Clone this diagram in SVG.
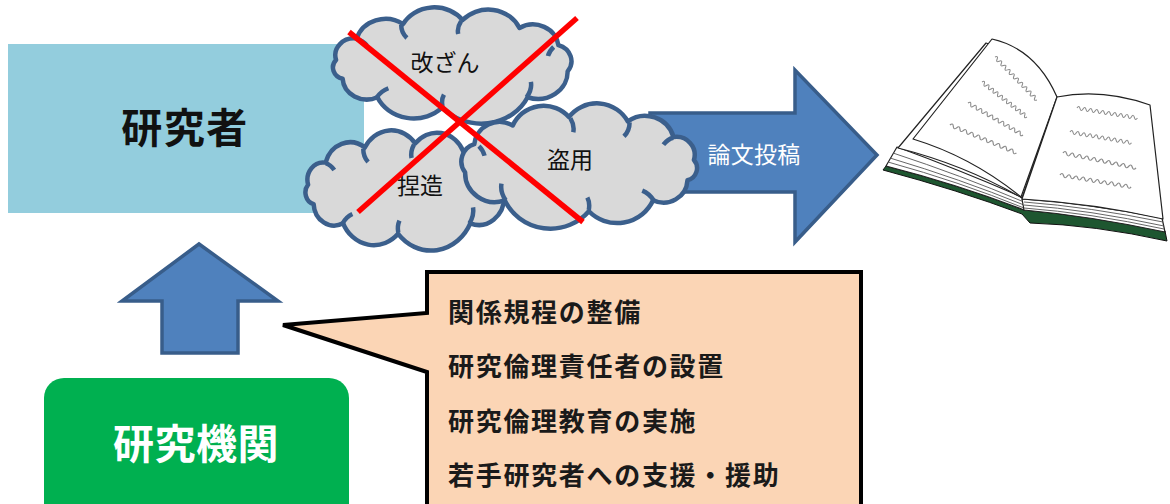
<svg xmlns="http://www.w3.org/2000/svg" xmlns:xlink="http://www.w3.org/1999/xlink" width="1170" height="504" viewBox="0 0 1170 504">
  <style>
    .jp { font-family: "Noto Sans CJK JP", "Noto Sans", sans-serif; }
    .cloud-body { fill: #D9D9D9; stroke: #3B5F8C; stroke-width: 4.5; stroke-linejoin: round; }
    .cloud-crease { fill: none; stroke: #3B5F8C; stroke-width: 4.5; stroke-linecap: butt; }
    .cloud-label { font-size: 23px; fill: #111; text-anchor: middle; }
    .block-arrow { fill: #4F81BD; stroke: #385D8A; stroke-width: 3.5; stroke-linejoin: miter; }
    .cross { stroke: #FF0000; stroke-width: 5.5; stroke-linecap: butt; }
    .measure { font-size: 26px; font-weight: 700; fill: #1a1a1a; letter-spacing: 1.7px; }
    .scribble { fill: none; stroke: #8c8c8c; stroke-width: 1.1; }
    .page { fill: #ffffff; stroke: #222; stroke-width: 1.2; stroke-linejoin: round; }
  </style>
  <defs>
    <!-- generic cloud outline in a 0..200 x 0..100 box -->
    <path id="cloudShape" vector-effect="non-scaling-stroke" d="M 18.3 47.0 A 13 13 0 0 1 32.8 30.5 A 21 21 0 0 1 65.3 19.2 A 25 25 0 0 1 107.1 16.1 A 24 24 0 0 1 147.0 22.2 A 18 18 0 0 1 174.3 35.6 A 13 13 0 0 1 180.8 55.9 A 21 21 0 0 1 152.7 76.0 A 36 36 0 0 1 92.9 83.9 A 28 28 0 0 1 47.3 76.0 A 17 17 0 0 1 22.9 61.6 A 9 9 0 0 1 18.3 47.0 Z"/>
    <path id="cloudCreases" vector-effect="non-scaling-stroke" d="M 64 20 Q 64 26 68 30 M 106 17 Q 103 22 104 27 M 171 37 Q 168 40 167 44 M 152 76 Q 156 70 155 64 M 93 83 Q 92 78 94 74 M 47 76 Q 50 71 55 69 M 33 31 Q 37 32 40 36"/>
    <!-- handwriting line used on the book pages -->
    <path id="scribble" d="M 0 0 q 1.5 -4 3 0 t 3 0 t 3 0 t 3 0 t 3 0 t 3 0 t 3 0 t 3 0 t 3 0 t 3 0 t 3 0 t 3 0 t 3 0 t 3 0 t 3 0 t 3 0 t 3 0 t 3 0 t 3 0 t 3 0"/>
  </defs>

  <!-- researcher -->
  <g id="researcher">
    <rect x="8" y="44" width="356" height="169" fill="#93CDDD"/>
    <text class="jp" x="185" y="143" font-size="41" font-weight="700" text-anchor="middle" letter-spacing="1.5" fill="#111">研究者</text>
  </g>

  <!-- connectors -->
  <g id="connectors">
    <path id="submit-arrow" class="block-arrow" d="M 650 113 L 795 113 L 795 70 L 877 155 L 795 242 L 795 192 L 650 192 Z"/>
    <path id="support-arrow" class="block-arrow" d="M 199 244 L 278 301 L 238 301 L 238 353 L 162 353 L 162 301 L 122 301 Z"/>
  </g>
  <text class="jp" x="754" y="163" font-size="23" letter-spacing="0.3" text-anchor="middle" fill="#ffffff">論文投稿</text>

  <!-- misconduct clouds -->
  <g id="cloud-falsification">
    <g transform="translate(310 -0.7) scale(1.425 1.289)">
      <use href="#cloudShape" class="cloud-body"/>
      <use href="#cloudCreases" class="cloud-crease"/>
    </g>
    <text class="jp cloud-label" x="445" y="71">改ざん</text>
  </g>
  <g id="cloud-fabrication">
    <g transform="translate(286 122) scale(1.207 1.333)">
      <use href="#cloudShape" class="cloud-body"/>
      <use href="#cloudCreases" class="cloud-crease"/>
    </g>
    <text class="jp cloud-label" x="420" y="194">捏造</text>
  </g>
  <g id="cloud-plagiarism">
    <g transform="translate(719.7 94.7) scale(-1.408 1.389)">
      <use href="#cloudShape" class="cloud-body"/>
      <use href="#cloudCreases" class="cloud-crease"/>
    </g>
    <text class="jp cloud-label" x="570" y="168">盗用</text>
  </g>

  <!-- prohibition cross -->
  <g id="cross">
    <line class="cross" x1="349" y1="32" x2="583" y2="222"/>
    <line class="cross" x1="577" y1="18" x2="358" y2="212"/>
  </g>

  <!-- published paper (open book) -->
  <g id="journal">
    <path d="M 883 170 Q 958 190 1022 214 L 1030 223 Q 1095 225 1167 241 L 1165 231 Q 1090 216 1024 210 Q 960 185 886 166 Z" fill="#1E5630" stroke="#111" stroke-width="1"/>
    <path class="page" d="M 897 147 L 886 166 Q 960 185 1024 210 L 1024 198 Q 960 170 897 147 Z"/>
    <path d="M 893 153 Q 960 175 1024 202 M 890 158 Q 960 179 1024 205 M 888 162 Q 960 182 1024 208" fill="none" stroke="#555" stroke-width="0.9"/>
    <path class="page" d="M 1022 199 Q 1090 204 1162 218 L 1165 232 Q 1090 216 1024 210 Z"/>
    <path d="M 1024 202 Q 1090 207 1163 222 M 1024 205 Q 1090 210 1164 226 M 1024 208 Q 1090 213 1164 229" fill="none" stroke="#555" stroke-width="0.9"/>
    <path class="page" d="M 986 43 L 898 148 Q 965 165 1022 198 L 1057 97 Q 1030 56 986 43 Z"/>
    <path class="page" d="M 992 39 L 913 139 Q 972 157 1021 197 L 1057 97 Q 1036 49 992 39 Z"/>
    <path class="page" d="M 1057 97 Q 1102 88 1150 105 L 1163 219 Q 1092 203 1022 199 Z"/>
    <g class="scribble">
      <use href="#scribble" transform="translate(995 57) rotate(45.7) scale(1 0.9)"/>
      <use href="#scribble" transform="translate(982 82) rotate(37.9) scale(0.95 0.9)"/>
      <use href="#scribble" transform="translate(968 103) rotate(30.2) scale(1.06 0.9)"/>
      <use href="#scribble" transform="translate(950 125) rotate(22.7) scale(1.2 0.9)"/>
      <use href="#scribble" transform="translate(1077 108) rotate(9.3) scale(1.02 0.9)"/>
      <use href="#scribble" transform="translate(1070 132) rotate(10) scale(1.04 0.9)"/>
      <use href="#scribble" transform="translate(1063 153) rotate(11.5) scale(1.24 0.9)"/>
      <use href="#scribble" transform="translate(1060 175) rotate(9.5) scale(1.2 0.9)"/>
    </g>
  </g>

  <!-- research institution -->
  <g id="institution">
    <rect x="44" y="378" width="305" height="150" rx="20" ry="20" fill="#00B050"/>
    <text class="jp" x="196" y="459" font-size="41" font-weight="700" text-anchor="middle" letter-spacing="0.5" fill="#ffffff">研究機関</text>
  </g>

  <!-- institutional measures callout -->
  <g id="measures">
    <path d="M 427 272 L 861 272 L 861 512 L 427 512 L 427 372 L 283 325 L 427 313 Z" fill="#FBD5B5" stroke="#000" stroke-width="4" stroke-linejoin="miter"/>
    <text class="jp measure" x="448" y="322">関係規程の整備</text>
    <text class="jp measure" x="448" y="376">研究倫理責任者の設置</text>
    <text class="jp measure" x="448" y="431">研究倫理教育の実施</text>
    <text class="jp measure" x="448" y="485">若手研究者への支援・援助</text>
  </g>
</svg>
